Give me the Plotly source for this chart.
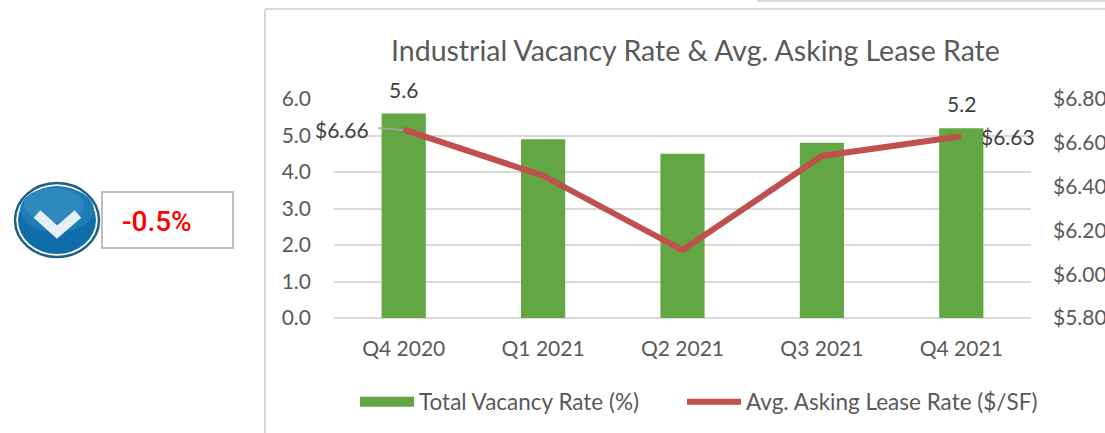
import plotly.graph_objects as go

W, H = 1105, 433
FONT = "Lato"
GREY = "#595959"
DARK = "#404040"

title = "Industrial Vacancy Rate & Avg. Asking Lease Rate"
quarters = ["Q4 2020", "Q1 2021", "Q2 2021", "Q3 2021", "Q4 2021"]
vacancy = [5.6, 4.9, 4.5, 4.8, 5.2]
lease = [6.66, 6.45, 6.11, 6.54, 6.63]
vacancy_ticks = [0, 1, 2, 3, 4, 5, 6]
lease_ticks = [5.8, 6.0, 6.2, 6.4, 6.6, 6.8]
change_text = "-0.5%"

fig = go.Figure()
fig.add_bar(x=quarters, y=vacancy, marker=dict(color="#62a744", line_width=0), width=0.317,
            name="Total Vacancy Rate (%)", showlegend=False)
fig.add_scatter(x=quarters, y=lease, yaxis="y2", mode="lines", showlegend=False,
                line=dict(color="#c0504d", width=6), name="Avg. Asking Lease Rate ($/SF)")
# legend keys
fig.add_scatter(x=[None], y=[None], mode="lines", line=dict(color="#62a744", width=13),
                name="Total Vacancy Rate (%)", legend="legend")
fig.add_scatter(x=[None], y=[None], mode="lines", line=dict(color="#c0504d", width=6),
                name="Avg. Asking Lease Rate ($/SF)", legend="legend2")

label_font = dict(size=21, color=DARK, family=FONT)
ann = []
for i in (0, 4):
    ann.append(dict(x=quarters[i], y=vacancy[i], text=f"{vacancy[i]:.1f}", showarrow=False,
                    yanchor="bottom", yshift=10, font=label_font))
ann.append(dict(x=quarters[0], y=lease[0], yref="y2", text=f"${lease[0]:.2f}", showarrow=False,
                xanchor="right", xshift=-33, font=label_font))
ann.append(dict(x=quarters[4], y=lease[4], yref="y2", text=f"${lease[4]:.2f}", showarrow=False,
                xanchor="left", xshift=18, font=label_font))
ann.append(dict(xref="paper", yref="paper", x=157/W, y=(H-221)/H, text=change_text, showarrow=False,
                xanchor="center", yanchor="middle",
                font=dict(size=28, color="#ff0000", family="Roboto", weight=500)))
ann.append(dict(xref="paper", yref="paper", x=695/W, y=(H-50)/H, text=title, showarrow=False,
                xanchor="center", yanchor="middle",
                font=dict(size=28.5, color=GREY, family=FONT)))

def px(kind, x0, y0, x1, y1, **kw):
    return dict(type=kind, xref="paper", yref="paper", x0=x0/W, x1=x1/W,
                y0=(H-y0)/H, y1=(H-y1)/H, **kw)

def pth(points, **kw):
    d = "M" + " L".join(f"{x/W},{(H-y)/H}" for x, y in points)
    return dict(type="path", xref="paper", yref="paper", path=d, **kw)

none = dict(width=0)
shapes = [
    px("line", 265, 9, 1105, 9, line=dict(color="#d9d9d9", width=2)),
    px("line", 265, 9, 265, 433, line=dict(color="#d9d9d9", width=2)),
    px("line", 757, 1, 1105, 1, line=dict(color="#d9d9d9", width=2)),
    px("rect", 102, 192, 233, 248, line=dict(color="#bfbfbf", width=2), fillcolor="white"),
    px("circle", 15, 183, 99, 257, line=dict(color="#1f5f86", width=2.5), fillcolor="#ffffff"),
    px("circle", 18, 186, 96, 254, line=none, fillcolor="#0f6ea9"),
    px("circle", 20, 187, 94, 232, line=none, fillcolor="#1f7cb4"),
    px("circle", 24, 188, 84, 222, line=none, fillcolor="#2f88bd"),
    pth([(37, 214), (57, 232), (78, 214)], line=dict(color="#e6eff5", width=10)),
    px("line", 378, 128, 403, 130, line=dict(color="#a6a6a6", width=1.5)),
]

legend_common = dict(orientation="h", y=(H-402)/H, yanchor="middle", xanchor="left",
                     itemwidth=54, font=dict(size=22.5, color=GREY), bgcolor="rgba(0,0,0,0)")

fig.update_layout(
    width=W, height=H, margin=dict(l=0, r=0, t=0, b=0, autoexpand=False), autosize=False,
    paper_bgcolor="white", plot_bgcolor="white",
    font=dict(family=FONT, color=GREY, size=21),
    xaxis=dict(domain=[334/W, 1031/W], range=[-0.5, 4.5], showgrid=False, showline=False, ticks="",
               tickfont=dict(size=21, color=GREY), ticklabelstandoff=16),
    yaxis=dict(domain=[(H-318)/H, (H-99)/H], range=[0, 6], tickvals=vacancy_ticks, tickformat=".1f",
               gridcolor="#d9d9d9", gridwidth=2, zeroline=True, zerolinecolor="#d9d9d9", zerolinewidth=2,
               tickfont=dict(size=21, color=GREY), ticklabelstandoff=22, showline=False),
    yaxis2=dict(domain=[(H-318)/H, (H-99)/H], range=[5.8, 6.8], overlaying="y", side="right",
                anchor="x", tickvals=lease_ticks, tickformat="$.2f", showgrid=False, zeroline=False,
                tickfont=dict(size=21, color=GREY), ticklabelstandoff=21, showline=False),
    legend=dict(x=355/W, **legend_common),
    legend2=dict(x=682/W, **legend_common),
    annotations=ann, shapes=shapes,
)
fig.write_html("out.html", post_script="document.body.style.margin='0';",
               config=dict(displayModeBar=False))
